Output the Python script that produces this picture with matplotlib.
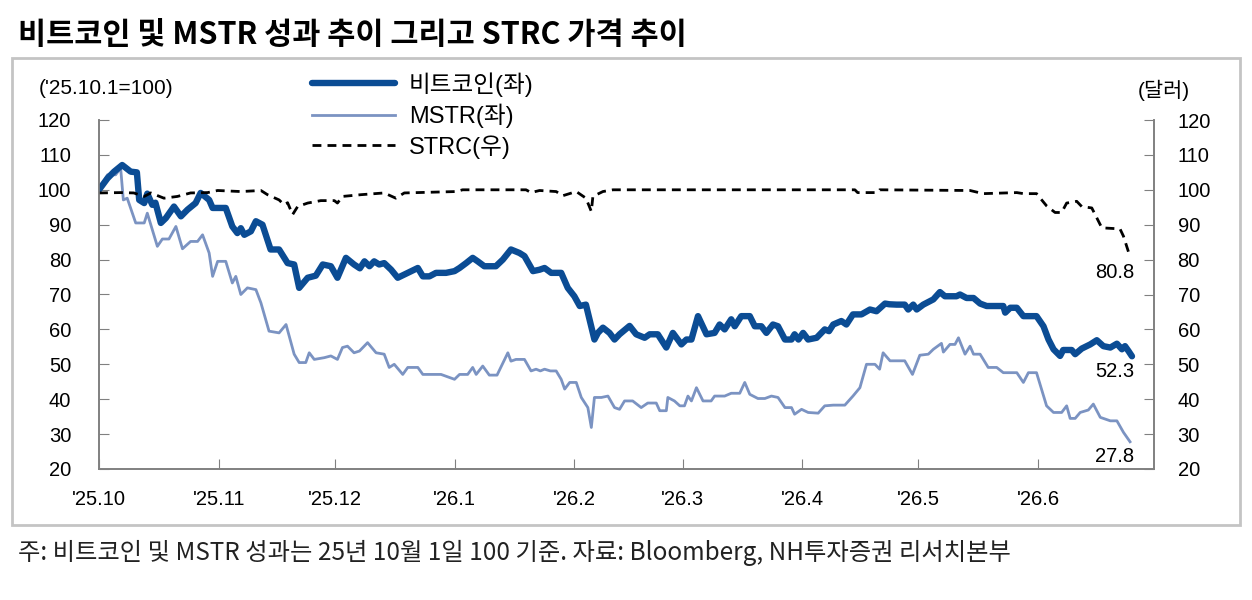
import matplotlib
matplotlib.use("Agg")
import matplotlib.pyplot as plt
from matplotlib.patches import Rectangle
import pandas as pd

# ---------------- data (days since 2025-10-01, values) ----------------
start_date = "2025-10-01"

btc_days = [0, 2.2, 3.9, 6, 8.2, 9.8, 10.4, 11.7, 12.5, 13.8, 14.6, 16, 17.3, 19.4, 21.2, 22.9,
            25, 26.3, 28.5, 29.4, 32.8, 34.5, 35.8, 36.7, 37.6, 39.3, 40.6, 42.3, 44.4, 46.6,
            48.8, 50.5, 51.8, 54, 56.1, 57.9, 60, 61.7, 63.9, 66, 67.5, 68.7, 70, 71.2, 72.5,
            73.8, 75.6, 77.3, 79.9, 82.5, 83.8, 85.5, 87.2, 89.8, 92, 93.3, 95, 96.7, 98, 99.7,
            102.7, 104.5, 106.6, 108.8, 110.1, 112.3, 114, 115.3, 117, 119.6, 121.3, 123, 124.4,
            126, 128.2, 129.1, 130.4, 132.1, 133.4, 134.7, 137.3, 139, 141.2, 142.5, 144.6,
            146.8, 148.5, 150.7, 152, 153.3, 155, 157.2, 159.3, 160.6, 161.9, 163.6, 164.5,
            166.2, 168.4, 169.7, 171.4, 172.7, 174.4, 175.7, 177.5, 179.2, 180, 181, 182.2,
            183.5, 185.7, 187.8, 188.9, 190, 192.1, 193.4, 195.1, 197.3, 199.5, 201.2, 203.4,
            204.5, 206.4, 208.5, 209.4, 210.7, 211.6, 213.3, 215.9, 217.6, 218.9, 221.9, 222.8,
            224.5, 226.3, 228, 229.7, 234, 234.5, 235.8, 237.5, 239.2, 242.6, 244.4, 245.7,
            247, 248.7, 249.5, 251.7, 252.6, 254.3, 256.5, 258.2, 259.9, 261.7, 263.4, 264.7,
            265.5, 266.4, 267.3]
btc_vals = [100, 103.3, 105.2, 107.1, 105.2, 105, 97.1, 96.2, 98.9, 95.7, 96.3, 90.5, 91.9, 95.2,
            92.4, 94.3, 96.2, 99.1, 97.1, 94.8, 94.8, 89.5, 87.6, 89, 87.1, 88.1, 91, 90, 82.9,
            82.9, 79, 78.6, 71.9, 74.8, 75.4, 78.6, 78.1, 74.8, 80.5, 78.6, 77.5, 79.5, 78.1,
            79.5, 78.6, 79, 77.1, 74.8, 76.2, 77.6, 75.2, 75.2, 76.2, 76.2, 76.7, 77.6, 79,
            80.5, 79.5, 78.1, 78.1, 80, 82.9, 81.9, 81, 76.7, 77.1, 77.6, 76.2, 76.2, 71.9,
            69.5, 66.7, 67.1, 57.1, 59, 60.5, 59, 57.1, 58.6, 61, 58.6, 57.6, 58.6, 58.6, 54.8,
            59, 55.7, 57.1, 57.1, 63.8, 58.6, 59, 61.4, 60, 62.9, 60.9, 63.8, 63.8, 60.9, 60.9,
            59, 61.4, 60.9, 57.1, 57.1, 58.6, 57.1, 59, 57.1, 57.6, 60, 59.5, 61.4, 62.4, 61.4,
            64.3, 64.3, 65.7, 65.2, 67.4, 67.2, 67.1, 67.1, 65.7, 67.1, 65.7, 67.1, 68.6, 70.7,
            69.5, 69.5, 70, 69, 69, 67.4, 66.7, 66.7, 64.8, 66.2, 66.2, 63.8, 63.8, 60.9, 57.1,
            54.3, 52.4, 54.1, 54.1, 52.9, 54.5, 55.7, 56.9, 55.2, 54.8, 55.9, 54.3, 55.2, 53.8,
            52.3]

mstr_days = [0, 2.2, 4.3, 5.6, 6.3, 7.3, 9.5, 11.7, 12.5, 15.1, 16.4, 18.1, 19.9, 21.6, 23.7,
             25.5, 26.8, 28.5, 29.4, 30.7, 32.8, 34.5, 35.4, 36.7, 38.4, 40.6, 41.9, 44, 46.6,
             48.4, 50.5, 51.8, 53.5, 54.4, 55.7, 58.3, 60, 61.7, 63, 64.3, 66, 67.4, 69.5, 71.7,
             73.8, 75.1, 76.4, 78.6, 79.9, 82.5, 83.8, 88.5, 92, 93.3, 95.4, 96.7, 97.6, 99.3,
             101, 103, 105.8, 106.6, 107.9, 110.1, 111.8, 113.1, 114.2, 115.3, 116.8, 118.3,
             119.6, 120.5, 121.8, 123.5, 124.8, 126.5, 127.4, 128.2, 130, 131.7, 133.4, 134.7,
             136, 138.1, 140.3, 142, 144.2, 145.1, 146.8, 147.2, 148.9, 150.3, 151.5, 152.4,
             153.3, 154.6, 156.3, 158.4, 159.3, 161.9, 163.6, 165.8, 167.1, 168.4, 170.5, 172.3,
             174, 175.7, 177.5, 179.2, 180, 181.8, 183.5, 186.1, 187.8, 190, 193, 195.1, 196.9,
             198.6, 200.8, 202, 202.9, 204.7, 208.5, 210.5, 212.4, 214.6, 215.9, 218, 218.5,
             220.2, 221.5, 222.4, 224.1, 225.4, 226.3, 228, 230.1, 232.3, 234, 237.5, 239.2,
             240.5, 242.6, 245.2, 247, 249.1, 250.4, 251.3, 252.6, 253.9, 256, 257.3, 259.1,
             261.7, 263.4, 265.1, 266.8]
mstr_vals = [100, 104.3, 104.3, 106.2, 97.1, 97.6, 90.5, 90.5, 93.3, 83.8, 85.9, 85.9, 89.5, 83.1,
             85.2, 85.2, 87.1, 81.9, 75.2, 79.5, 79.5, 73.3, 75.2, 70, 71.9, 71.4, 67.6, 59.5, 59,
             61.4, 52.9, 50.5, 50.5, 53.3, 51.4, 51.9, 52.4, 51.4, 54.8, 55.2, 53.3, 53.8, 56.2,
             53.3, 52.9, 49.1, 50, 47.1, 49.1, 49.1, 47.1, 47.1, 45.7, 47.1, 47.1, 49.1, 47.1,
             49.5, 46.9, 46.9, 53.3, 50.9, 51.4, 51.4, 48.1, 48.6, 48.1, 48.6, 48.1, 48.1, 45.7,
             42.9, 44.8, 44.8, 40.5, 37.6, 31.9, 40.5, 40.5, 40.9, 37.6, 37.1, 39.5, 39.5, 37.6,
             38.9, 38.9, 36.7, 36.7, 40.5, 39.5, 38.1, 38.1, 40.9, 39.5, 43.3, 39.5, 39.5, 40.9,
             40.9, 41.7, 41.7, 44.8, 41.4, 40.2, 40.2, 40.9, 40.5, 37.6, 37.6, 35.7, 37.1, 36.2,
             36, 38.1, 38.3, 38.3, 40.9, 43.3, 50, 50, 48.6, 53.3, 51, 51, 47.1, 52.6, 52.9,
             54.3, 56, 53.5, 55.7, 55.7, 57.6, 52.9, 55.2, 52.9, 52.9, 49.1, 49.1, 47.6, 47.6,
             44.8, 47.6, 47.6, 38.1, 36.2, 36.2, 38.1, 34.5, 34.5, 36.2, 36.9, 38.6, 34.8, 33.8,
             33.8, 30.5, 27.8]

strc_days = [0, 5.6, 9, 11.7, 13.4, 16.8, 20.3, 23.7, 28.1, 30.7, 36.7, 41.9, 43.6, 46.6, 47.9,
             48.8, 50.1, 51.4, 54, 57.4, 60.9, 61.7, 63, 67.8, 73.8, 76.8, 79, 92.4, 94.1, 110.5,
             111.8, 114, 118.3, 120, 123.5, 126, 127.4, 127.8, 130.4, 133, 195.6, 196.3, 201.4,
             202, 225.4, 228.8, 237.5, 239.2, 242.6, 245.2, 247.4, 249.1, 250.4, 251.5, 253,
             254.3, 256.9, 259.5, 264.2, 265.1, 266.8]
strc_vals = [99.1, 99.2, 99.1, 98.1, 99.1, 97.6, 98.1, 99.1, 99.2, 99.8, 99.5, 99.8, 98.6, 97.1,
             95.7, 96.3, 92.9, 95.2, 96.2, 96.9, 96.9, 96.2, 98.1, 98.6, 99.1, 97.6, 99.1, 99.5,
             100, 100, 99.2, 99.8, 99.5, 98.3, 99.5, 97.6, 93.8, 98.1, 99.5, 100, 100, 99.2, 99.2,
             100, 99.8, 98.9, 99.2, 98.9, 98.9, 95.4, 93.5, 93.5, 96.2, 96.4, 96.7, 95.2, 94.8,
             89.1, 88.8, 86.7, 80.8]

month_ticks = ["2025-10-01", "2025-11-01", "2025-12-01", "2026-01-01", "2026-02-01",
               "2026-03-01", "2026-04-01", "2026-05-01", "2026-06-01"]
month_labels = ["'25.10", "'25.11", "'25.12", "'26.1", "'26.2", "'26.3", "'26.4", "'26.5", "'26.6"]
y_ticks = [20, 30, 40, 50, 60, 70, 80, 90, 100, 110, 120]

title = "비트코인 및 MSTR 성과 추이 그리고 STRC 가격 추이"
footnote = "주: 비트코인 및 MSTR 성과는 25년 10월 1일 100 기준. 자료: Bloomberg, NH투자증권 리서치본부"
series_labels = ["비트코인(좌)", "MSTR(좌)", "STRC(우)"]

# ---------------- plotting ----------------
plt.rcParams['font.family'] = ['Liberation Sans', 'Noto Sans CJK KR']
W, H = 1252, 600
fig = plt.figure(figsize=(W / 100, H / 100), dpi=100)

def fx(px):
    return px / W

def fy(py):
    return 1 - py / H

t0 = pd.Timestamp(start_date)
def to_dates(days):
    return t0 + pd.to_timedelta(days, unit="D")

ax = fig.add_axes([fx(99), fy(469), fx(1154) - fx(99), fy(120) - fy(469)])
ax2 = ax.twinx()

BTC_C = "#0b4c94"
MSTR_C = "#7b93c2"
SPINE_C = "#808080"

l2, = ax.plot(to_dates(mstr_days), mstr_vals, color=MSTR_C, lw=2.0, solid_joinstyle="round",
              label=series_labels[1], zorder=2)
l1, = ax.plot(to_dates(btc_days), btc_vals, color=BTC_C, lw=4.6, solid_joinstyle="round",
              solid_capstyle="round", label=series_labels[0], zorder=3)
l3, = ax2.plot(to_dates(strc_days), strc_vals, color="black", lw=2.0, dashes=(3.2, 2.2),
               label=series_labels[2])

xlim = (pd.Timestamp("2025-10-01"), pd.Timestamp("2026-07-01"))
for a in (ax, ax2):
    a.set_xlim(*xlim)
    a.set_ylim(20, 120)
    a.set_yticks(y_ticks)
    a.spines["top"].set_visible(False)
    for s in ("left", "right", "bottom"):
        a.spines[s].set_color(SPINE_C)
        a.spines[s].set_linewidth(1.2)

ax.set_xticks(pd.to_datetime(month_ticks))
ax.set_xticklabels(month_labels)
ax.tick_params(axis="x", direction="in", length=7, color=SPINE_C, pad=15, labelsize=14.5)
ax.tick_params(axis="y", direction="in", length=7, color=SPINE_C, pad=20, labelsize=14.5)
ax2.tick_params(axis="y", direction="in", length=7, color=SPINE_C, pad=17, labelsize=14.5)

# end-value labels
ax2.annotate(f"{strc_vals[-1]:.1f}", xy=(to_dates([strc_days[-1]])[0], strc_vals[-1]),
             xytext=(4, -16), textcoords="offset pixels", ha="right", va="center", fontsize=14.5)
ax.annotate(f"{btc_vals[-1]:.1f}", xy=(to_dates([btc_days[-1]])[0], btc_vals[-1]),
            xytext=(2, -15), textcoords="offset pixels", ha="right", va="center", fontsize=14.5)
ax.annotate(f"{mstr_vals[-1]:.1f}", xy=(to_dates([mstr_days[-1]])[0], mstr_vals[-1]),
            xytext=(4, -15), textcoords="offset pixels", ha="right", va="center", fontsize=14.5)

# legend
leg = fig.legend([l1, l2, l3], series_labels, loc="upper left",
                 bbox_to_anchor=(fx(312), fy(72)), frameon=False, fontsize=17,
                 handlelength=3.5, handletextpad=0.6, labelspacing=0.3,
                 borderpad=0, borderaxespad=0)

# axis unit labels
fig.text(fx(39), fy(89), "('25.10.1=100)", fontsize=15, ha="left", va="center")
fig.text(fx(1164), fy(90), "(달러)", fontsize=15, ha="center", va="center")

# title, border, footnote
fig.text(fx(18), fy(35), title, fontsize=22, fontweight="bold", ha="left", va="center",
         family=["Noto Sans CJK KR"])
fig.patches.append(Rectangle((fx(12), fy(525)), fx(1240) - fx(12), fy(58) - fy(525),
                             transform=fig.transFigure, fill=False, ec="#c4c4c4", lw=2))
fig.text(fx(18), fy(553), footnote, fontsize=17.5, ha="left", va="center",
         family=["Noto Sans CJK KR"], color="#222222")

fig.savefig("out.png", dpi=100)
